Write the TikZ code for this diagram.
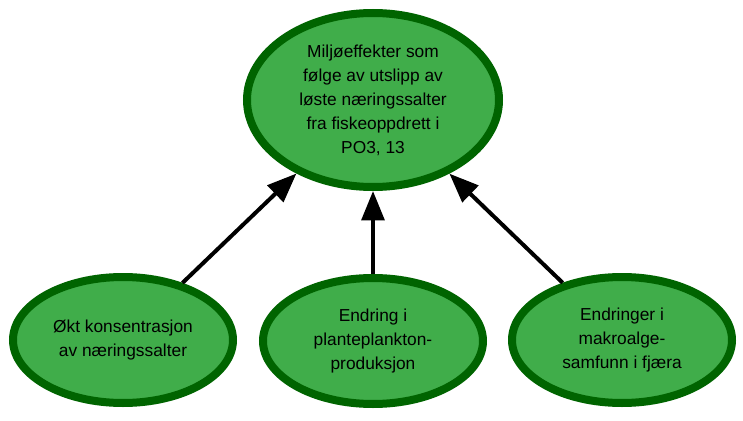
\documentclass[tikz,border=0pt]{standalone}
\usepackage{fontspec}
\setmainfont{Liberation Sans}
\usetikzlibrary{shapes.geometric,arrows.meta}
\definecolor{ellfill}{RGB}{64,173,74}
\definecolor{ellborder}{RGB}{0,100,0}
\begin{document}
\begin{tikzpicture}[x=0.75pt,y=-0.75pt,
  bubble/.style={ellipse,draw=ellborder,fill=ellfill,line width=6pt,inner sep=0pt,
    align=center,font=\fontsize{13pt}{18pt}\selectfont},
  topbubble/.style={bubble,minimum width=189pt,minimum height=130.5pt},
  lowbubble/.style={bubble,minimum width=165pt,minimum height=94.5pt},
  link/.style={line width=3pt,-{Triangle[length=22pt,width=17pt]}}]
\useasboundingbox (0,0) rectangle (743,421);
\node[topbubble] (top) at (373,100) {Miljøeffekter som\\følge av utslipp av\\løste næringssalter\\fra fiskeoppdrett i\\PO3, 13};
\node[lowbubble] (left) at (123,340) {Økt konsentrasjon\\av næringssalter};
\node[lowbubble] (mid) at (373,341) {Endring i\\planteplankton-\\produksjon};
\node[lowbubble] (right) at (622,340) {Endringer i\\makroalge-\\samfunn i fjæra};
\draw[link] (left) -- (top);
\draw[link] (mid) -- (top);
\draw[link] (right) -- (top);
\end{tikzpicture}
\end{document}
